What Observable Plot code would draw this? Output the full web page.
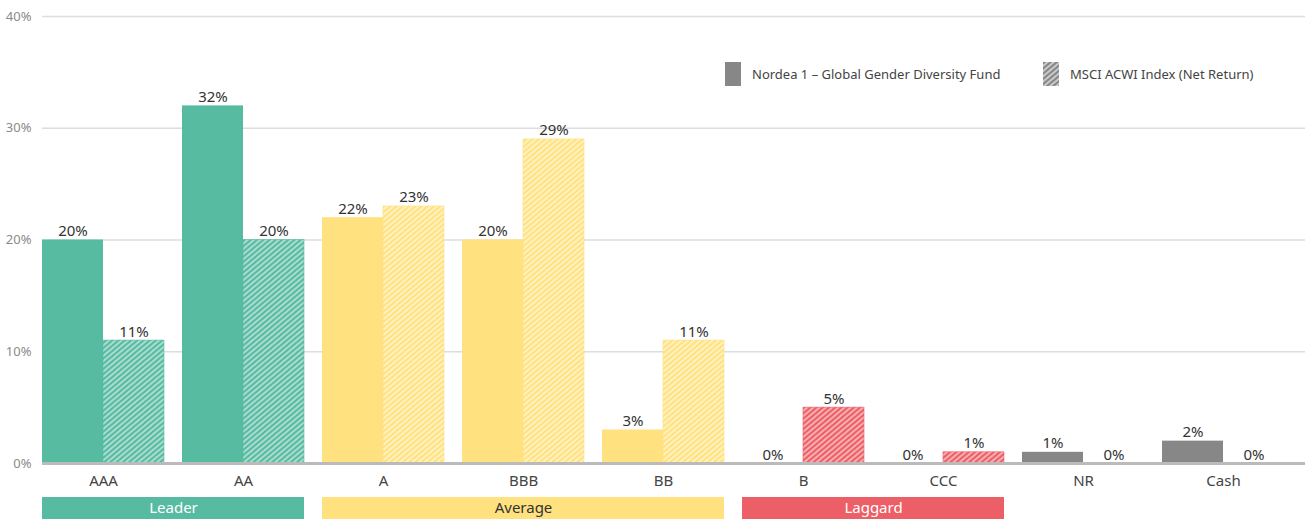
<!DOCTYPE html>
<html>
<head>
<meta charset="utf-8">
<script src="https://cdn.jsdelivr.net/npm/d3@7"></script>
<script src="https://cdn.jsdelivr.net/npm/@observablehq/plot@0.6"></script>
<style>
  html, body { margin: 0; padding: 0; background: #fff; }
  body { font-family: "Noto Sans", "Open Sans", sans-serif; }
  #wrap { position: relative; width: 1309px; height: 520px; }
  #wrap svg { display: block; }
  .legend { position: absolute; top: 62px; height: 24px; display: flex; align-items: center; font-size: 13px; color: #444; white-space: nowrap; }
  .legend .sw { width: 16px; height: 24px; margin-right: 11px; }
</style>
</head>
<body>
<div id="wrap"></div>
<script>
// ---- data ----
const ratings = ["AAA", "AA", "A", "BBB", "BB", "B", "CCC", "NR", "Cash"];
const fundValues = [20, 32, 22, 20, 3, 0, 0, 1, 2];
const indexValues = [11, 20, 23, 29, 11, 5, 1, 0, 0];
const yTicks = [0, 10, 20, 30, 40];
const seriesNames = ["Nordea 1 – Global Gender Diversity Fund", "MSCI ACWI Index (Net Return)"];
const groupNames = ["Leader", "Average", "Laggard"];
const groupMembers = [["AAA", "AA"], ["A", "BBB", "BB"], ["B", "CCC"]];

// ---- styles ----
const palette = {
  Leader:  {solid: "#57BBA2", light: "#A9DCCE", text: "#ffffff"},
  Average: {solid: "#FFE27F", light: "#FFF1C0", text: "#333333"},
  Laggard: {solid: "#EC5F66", light: "#F6AEB1", text: "#ffffff"},
  Other:   {solid: "#878787", light: "#C9C9C9", text: "#ffffff"}
};
const groupOf = r => {
  const i = groupMembers.findIndex(m => m.includes(r));
  return i < 0 ? "Other" : groupNames[i];
};

const rows = ratings.map((r, i) => ({rating: r, fund: fundValues[i], index: indexValues[i], group: groupOf(r)}));

const W = 1309, ML = 42, MR = 4;
const step = 140, gap = 18, bw = step - gap;
const nCat = ratings.length;
const frameW = W - ML - MR;
const padOuter = (frameW / step - nCat + gap / step) / 2;
const xScale = {domain: ratings, paddingInner: gap / step, paddingOuter: padOuter, align: 0, round: false};

function patternDefs() {
  const defs = d3.create("svg:defs");
  Object.entries(palette).forEach(([k, c]) => {
    const p = defs.append("pattern")
      .attr("id", "hatch-" + k)
      .attr("patternUnits", "userSpaceOnUse")
      .attr("width", 4).attr("height", 4)
      .attr("patternTransform", "rotate(50)");
    p.append("rect").attr("width", 4).attr("height", 4).attr("fill", c.light);
    p.append("rect").attr("width", 2).attr("height", 4).attr("fill", c.solid);
  });
  return defs.node();
}

const main = Plot.plot({
  width: W, height: 494,
  marginLeft: ML, marginRight: MR, marginTop: 16, marginBottom: 31,
  x: {...xScale, label: null},
  y: {domain: [0, 40], label: null},
  color: {type: "identity"},
  style: {fontFamily: "Noto Sans, Open Sans, sans-serif", background: "transparent"},
  marks: [
    patternDefs,
    Plot.ruleY(yTicks.filter(d => d > 0), {stroke: "#dddddd", strokeWidth: 1.6}),
    Plot.barY(rows, {x: "rating", y: "fund", fill: d => palette[d.group].solid, insetRight: bw / 2}),
    Plot.barY(rows, {x: "rating", y: "index", fill: d => `url(#hatch-${d.group})`, stroke: d => palette[d.group].solid, strokeWidth: 0.6, insetLeft: bw / 2}),
    Plot.ruleY([0], {stroke: "#bbbbbb", strokeWidth: 3}),
    Plot.text(rows, {x: "rating", y: "fund", text: d => d.fund + "%", dx: -bw / 4, dy: -4, lineAnchor: "bottom", fill: "#333", fontSize: 15}),
    Plot.text(rows, {x: "rating", y: "index", text: d => d.index + "%", dx: bw / 4, dy: -4, lineAnchor: "bottom", fill: "#333", fontSize: 15}),
    Plot.axisY(yTicks, {tickSize: 0, tickPadding: 11, tickFormat: d => d + "%", color: "#8a8a8a", fontSize: 13}),
    Plot.axisX({tickSize: 0, tickPadding: 12, color: "#444", fontSize: 15})
  ]
});

// rating-group strip
const stripRows = [];
groupMembers.forEach((m, gi) => m.forEach((r, j) => stripRows.push({rating: r, group: groupNames[gi], last: j === m.length - 1, labelHere: j === Math.floor((m.length - 1) / 2), even: m.length % 2 === 0})));

const strip = Plot.plot({
  width: W, height: 26,
  marginLeft: ML, marginRight: MR, marginTop: 3, marginBottom: 1,
  x: {...xScale, axis: null},
  color: {type: "identity"},
  style: {fontFamily: "Noto Sans, Open Sans, sans-serif", background: "transparent"},
  marks: [
    Plot.cell(stripRows.filter(d => !d.last), {x: "rating", fill: d => palette[d.group].solid, inset: 0, insetRight: -gap}),
    Plot.cell(stripRows.filter(d => d.last), {x: "rating", fill: d => palette[d.group].solid, inset: 0}),
    Plot.text(stripRows.filter(d => d.labelHere && d.even), {x: "rating", text: "group", dx: step / 2, fill: d => palette[d.group].text, fontSize: 15}),
    Plot.text(stripRows.filter(d => d.labelHere && !d.even), {x: "rating", text: "group", fill: d => palette[d.group].text, fontSize: 15})
  ]
});

const wrap = document.getElementById("wrap");
wrap.appendChild(main);
wrap.appendChild(strip);

// legend overlay
const legendLefts = [725, 1043];
seriesNames.forEach((name, i) => {
  const item = document.createElement("div");
  item.className = "legend";
  item.style.left = legendLefts[i] + "px";
  const sw = document.createElement("div");
  sw.className = "sw";
  if (i === 0) {
    sw.style.background = palette.Other.solid;
  } else {
    sw.innerHTML = `<svg width="16" height="24"><defs><pattern id="lg-hatch" patternUnits="userSpaceOnUse" width="4" height="4" patternTransform="rotate(50)"><rect width="4" height="4" fill="${palette.Other.light}"/><rect width="2" height="4" fill="${palette.Other.solid}"/></pattern></defs><rect width="16" height="24" fill="url(#lg-hatch)"/></svg>`;
  }
  const label = document.createElement("span");
  label.textContent = name;
  item.appendChild(sw);
  item.appendChild(label);
  wrap.appendChild(item);
});
</script>
</body>
</html>
